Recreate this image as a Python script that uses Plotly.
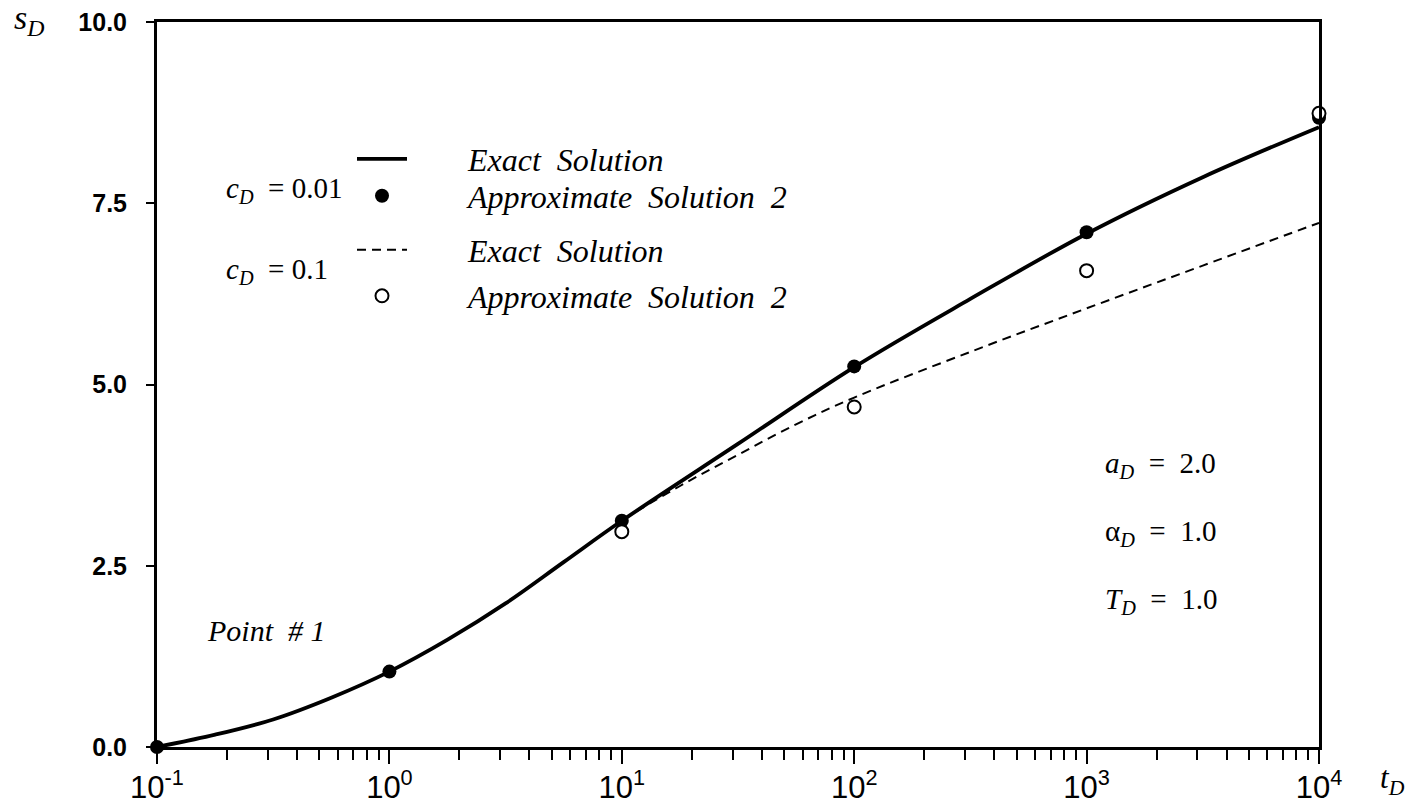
import plotly.graph_objects as go

# ---------------- data ----------------
t_exact_c001 = [0.1, 0.178, 0.316, 0.562, 1, 1.78, 3.16, 5.62, 10, 31.6, 100, 316, 1000, 3162, 10000]
s_exact_c001 = [0.0, 0.17, 0.38, 0.68, 1.04, 1.48, 1.98, 2.55, 3.12, 4.18, 5.24, 6.18, 7.08, 7.86, 8.55]

t_exact_c01 = [0.1, 0.178, 0.316, 0.562, 1, 1.78, 3.16, 5.62, 10, 17.8, 31.6, 56.2, 100, 316, 1000, 3162, 10000]
s_exact_c01 = [0.0, 0.17, 0.38, 0.68, 1.04, 1.48, 1.98, 2.55, 3.12, 3.60, 4.03, 4.45, 4.82, 5.45, 6.05, 6.64, 7.23]

t_approx_c001 = [0.1, 1, 10, 100, 1000, 10000]
s_approx_c001 = [0.0, 1.04, 3.12, 5.25, 7.10, 8.68]

t_approx_c01 = [10, 100, 1000, 10000]
s_approx_c01 = [2.97, 4.69, 6.57, 8.74]

x_tickvals = [0.1, 1, 10, 100, 1000, 10000]
x_ticktext = ["10<sup>-1</sup>", "10<sup>0</sup>", "10<sup>1</sup>",
              "10<sup>2</sup>", "10<sup>3</sup>", "10<sup>4</sup>"]
y_tickvals = [0, 2.5, 5, 7.5, 10]
y_ticktext = ["0.0", "2.5", "5.0", "7.5", "10.0"]

# ---------------- geometry helpers (layout only) ----------------
W, H = 1410, 807
L, R, T, B = 157, 1319, 22, 747


def xp(px):
    return (px - L) / (R - L)


def yp(py):
    return (B - py) / (B - T)


SERIF = "Liberation Serif"
SANS = "Liberation Sans"
PAD = "\u00a0" * 7

fig = go.Figure()

fig.add_trace(go.Scatter(
    x=t_exact_c01, y=s_exact_c01, mode="lines",
    name=PAD + "<i>Exact  Solution</i>", legend="legend3",
    line=dict(color="black", width=2, dash="9px,6px", shape="spline", smoothing=1.0),
    cliponaxis=False))
fig.add_trace(go.Scatter(
    x=t_exact_c001, y=s_exact_c001, mode="lines",
    name=PAD + "<i>Exact  Solution</i>", legend="legend",
    line=dict(color="black", width=3.8, shape="spline", smoothing=1.0),
    cliponaxis=False))
fig.add_trace(go.Scatter(
    x=t_approx_c001, y=s_approx_c001, mode="markers",
    name=PAD + "<i>Approximate  Solution  2</i>", legend="legend2",
    marker=dict(symbol="circle", size=14, color="black"),
    cliponaxis=False))
fig.add_trace(go.Scatter(
    x=t_approx_c01, y=s_approx_c01, mode="markers",
    name=PAD + "<i>Approximate  Solution  2</i>", legend="legend4",
    marker=dict(symbol="circle", size=13, color="white",
                line=dict(color="black", width=2)),
    cliponaxis=False))

minor_vals = [m * 10 ** e for e in range(-1, 4) for m in range(2, 10)]

fig.update_xaxes(
    type="log", range=[-1, 4], automargin=False,
    showline=True, linewidth=3, linecolor="black", mirror=True,
    ticks="outside", ticklen=14, tickwidth=2, tickcolor="black",
    tickvals=x_tickvals, ticktext=x_ticktext,
    tickfont=dict(family=SANS, size=31, color="black"),
    ticklabelstandoff=-3,
    showgrid=False, zeroline=False,
    minor=dict(tickmode="array", tickvals=minor_vals, ticks="outside",
               ticklen=10, tickwidth=2, tickcolor="black", showgrid=False),
)
fig.update_yaxes(
    range=[0, 10], automargin=False,
    showline=True, linewidth=3, linecolor="black", mirror=True,
    ticks="outside", ticklen=8, tickwidth=1.5, tickcolor="black",
    tickvals=y_tickvals, ticktext=y_ticktext,
    tickfont=dict(family=SANS, size=25, color="black", weight="bold"),
    ticklabelstandoff=14,
    showgrid=False, zeroline=False,
)

ann_font = dict(family=SERIF, size=29, color="black")
annotations = [
    dict(text="<i>s</i><sub><i>D</i></sub>", x=xp(12), y=yp(20), xanchor="left", yanchor="middle",
         font=dict(family=SERIF, size=34, color="black")),
    dict(text="<i>t</i><sub><i>D</i></sub>", x=xp(1378), y=yp(780), xanchor="left", yanchor="middle",
         font=dict(family=SERIF, size=31, color="black")),
    dict(text="<i>c</i><sub><i>D</i></sub>  = 0.01", x=xp(224), y=yp(190), xanchor="left", yanchor="middle",
         font=ann_font),
    dict(text="<i>c</i><sub><i>D</i></sub>  = 0.1", x=xp(224), y=yp(271), xanchor="left", yanchor="middle",
         font=ann_font),
    dict(text="<i>Point  # 1</i>", x=xp(205), y=yp(630), xanchor="left", yanchor="middle",
         font=dict(family=SERIF, size=30, color="black")),
    dict(text="<i>a</i><sub><i>D</i></sub>  =  2.0", x=xp(1103), y=yp(465), xanchor="left", yanchor="middle",
         font=ann_font),
    dict(text="α<sub><i>D</i></sub>  =  1.0", x=xp(1103), y=yp(533), xanchor="left", yanchor="middle",
         font=ann_font),
    dict(text="<i>T</i><sub><i>D</i></sub>  =  1.0", x=xp(1103), y=yp(601), xanchor="left", yanchor="middle",
         font=ann_font),
]
for a in annotations:
    a.update(xref="paper", yref="paper", showarrow=False)


def leg(py):
    return dict(x=xp(352), y=yp(py), xanchor="left", yanchor="middle",
                bgcolor="rgba(0,0,0,0)", borderwidth=0,
                font=dict(family=SERIF, size=32, color="black"),
                itemwidth=50)


fig.update_layout(
    width=W, height=H,
    margin=dict(l=L, r=W - R, t=T, b=H - B, pad=0),
    paper_bgcolor="white", plot_bgcolor="white",
    showlegend=True,
    legend=leg(159), legend2=leg(196), legend3=leg(250), legend4=leg(296),
    annotations=annotations,
)

fig.write_html("out.html")
